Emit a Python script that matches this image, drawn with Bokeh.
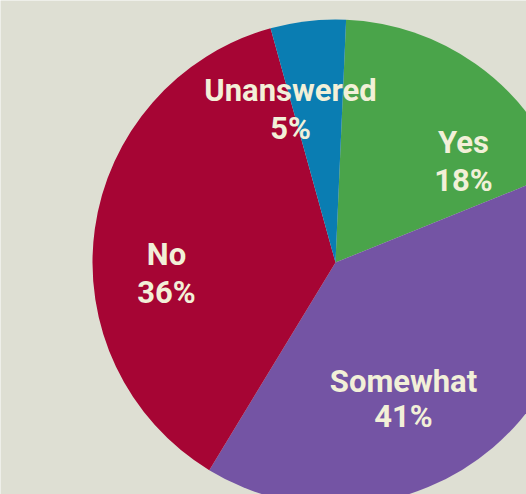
import numpy as np
from bokeh.plotting import figure
from bokeh.models import Range1d, ColumnDataSource
from bokeh.core.properties import value
from bokeh.embed import file_html
from bokeh.resources import INLINE

# ---- data (clockwise from just right of 12 o'clock) ----
categories = ["Yes", "Somewhat", "No", "Unanswered"]
shares = [18.2, 39.8, 37.0, 5.0]          # slice sizes as drawn
pct_labels = ["18%", "41%", "36%", "5%"]  # printed labels
colors = ["#4aa44a", "#7454a4", "#a60534", "#0a7db2"]

# ---- layout ----
W, H = 526, 494
cx, cy_img, R = 335, 262, 243
start_cw = 2.5  # degrees clockwise from top where first slice begins
label_pos_img = [(463, 142, 180), (403, 381, 416), (166, 254, 292), (290, 90, 128)]
bg = "#dedfd3"
txt = "#f2f0d8"

p = figure(width=W, height=H, output_backend="svg", toolbar_location=None,
           x_range=Range1d(0, W), y_range=Range1d(0, H), min_border=0)
p.axis.visible = False
p.grid.visible = False
p.outline_line_color = None
p.background_fill_color = bg
p.border_fill_color = bg

vals = np.array(shares, dtype=float)
fr = vals / vals.sum() * 360.0
ends_cw = start_cw + np.cumsum(fr)
starts_cw = ends_cw - fr
src = ColumnDataSource(dict(
    x=[cx] * len(vals), y=[H - cy_img] * len(vals),
    start=np.radians(90 - starts_cw), end=np.radians(90 - ends_cw),
    color=colors, cat=categories))
p.wedge(x="x", y="y", radius=R, start_angle="start", end_angle="end",
        direction="clock", fill_color="color", line_color=None, source=src)

lx = [a for a, b, c in label_pos_img]
ly1 = [H - b for a, b, c in label_pos_img]
ly2 = [H - c for a, b, c in label_pos_img]
for ys, texts in ((ly1, categories), (ly2, pct_labels)):
    p.text(x=lx, y=ys, text=texts, text_align="center", text_baseline="middle",
           text_font=value("Roboto"), text_font_style="bold",
           text_font_size="31px", text_color=txt)

open("out.html", "w").write(file_html(p, INLINE))
